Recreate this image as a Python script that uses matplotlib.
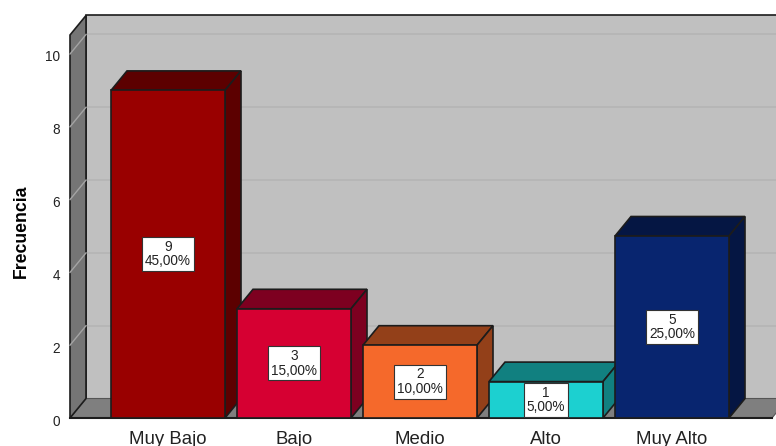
import matplotlib
matplotlib.use("Agg")
import matplotlib.pyplot as plt
from matplotlib.patches import Polygon
from matplotlib.transforms import ScaledTranslation

plt.rcParams['font.family'] = ['Liberation Sans', 'DejaVu Sans']

categories = ["Muy Bajo", "Bajo", "Medio", "Alto", "Muy Alto"]
counts = [9, 3, 2, 1, 5]
percents = ["45,00%", "15,00%", "10,00%", "5,00%", "25,00%"]
front_colors = ["#990000", "#d60032", "#f5692b", "#1cd0d0", "#08256f"]
side_colors = ["#5c0000", "#7d0020", "#934019", "#118080", "#051643"]
y_ticks = [0, 2, 4, 6, 8, 10]

W, H = 776, 446
PX_X, PX_Y = 126.0, 36.4      # pixels per category / per count
DX, DY = 16 / PX_X, 19.5 / PX_Y  # 3-D depth in data units
EDGE = "#1c1c1c"

fig = plt.figure(figsize=(W / 100, H / 100), dpi=100, facecolor="white")
ax = fig.add_axes([70 / W, 28 / H, (W - 70) / W, (418 - 35) / H])
x0 = (70 - 168) / PX_X
x1 = (772 - 168) / PX_X
xview = (W - 168) / PX_X
ytop = (418 - 35) / PX_Y
ax.set_xlim(x0, xview)
ax.set_ylim(0, ytop)
ax.set_facecolor("none")
for s in ax.spines.values():
    s.set_visible(False)


def poly(pts, fc, z, ec=EDGE, lw=1.2):
    ax.add_patch(Polygon(pts, closed=True, fc=fc, ec=ec, lw=lw, zorder=z,
                         clip_on=False, joinstyle="miter"))


far = x1 + DX
# back wall, left wall, floor
poly([(x0 + DX, DY), (far + 1, DY), (far + 1, ytop + DY), (x0 + DX, ytop + DY)], "#c0c0c0", 1)
poly([(x0, 0), (x0 + DX, DY), (x0 + DX, ytop + DY), (x0, ytop)], "#757575", 1.2)
poly([(x0, 0), (x1, 0), (far, DY), (x0 + DX, DY)], "#7f7f7f", 1.1, ec="#555555", lw=0.8)

# gridlines
for v in y_ticks[1:]:
    ax.plot([x0 + DX, far + 1], [v + DY, v + DY], color="#b4b4b4", lw=1.1, zorder=1.05, clip_on=False)
    ax.plot([x0, x0 + DX], [v, v + DY], color="#a4a4a4", lw=1.0, zorder=1.3, clip_on=False)

# floor front line
ax.plot([x0, x1], [0, 0], color=EDGE, lw=1.5, zorder=1.4, clip_on=False)

width = 114 / PX_X
xs = list(range(len(categories)))
# later bars overlap earlier depth faces
for i, (v, c, sc) in enumerate(zip(counts, front_colors, side_colors)):
    z = 2 + i
    l, r = i - width / 2, i + width / 2
    poly([(l, v), (r, v), (r + DX, v + DY), (l + DX, v + DY)], sc, z)
    poly([(r, 0), (r + DX, DY), (r + DX, v + DY), (r, v)], sc, z)
    ax.bar(i, v, width=width, color=c, edgecolor=EDGE, linewidth=1.2, zorder=z + 0.1)
    ax.text(i, v / 2, f"{v}\n{percents[i]}", ha="center", va="center", fontsize=9.8,
            color="#222222", linespacing=1.05, zorder=z + 0.2,
            bbox=dict(boxstyle="square,pad=0.2", fc="white", ec="#333333", lw=0.8))

ax.set_xticks(xs)
ax.set_xticklabels(categories, fontsize=13.4, color="#222222")
ax.tick_params(axis="x", length=0, pad=9)
ax.set_yticks(y_ticks)
ax.tick_params(axis="y", length=0, labelsize=9.8, labelcolor="#222222", pad=7)
shift = ScaledTranslation(0, -2 / 100, fig.dpi_scale_trans)
for lab in ax.get_yticklabels():
    lab.set_transform(lab.get_transform() + shift)
fig.text(21 / W, 1 - 231.5 / H, "Frecuencia", rotation=90, ha="center", va="center",
         fontsize=12.7, color="black", fontweight="bold")

fig.savefig("out.png", dpi=100)
